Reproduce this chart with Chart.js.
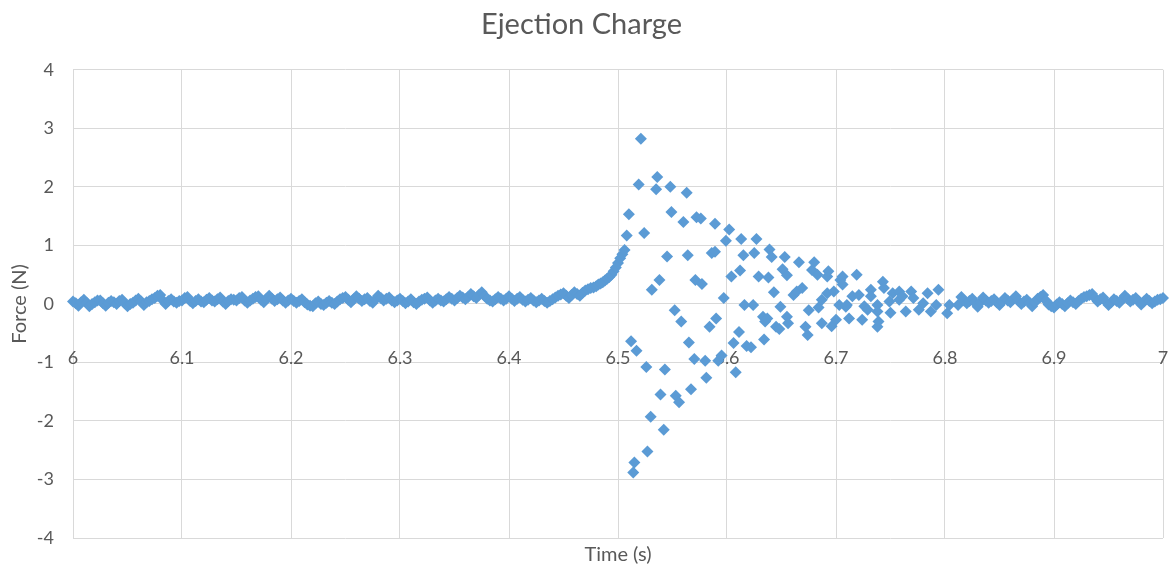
<!DOCTYPE html>
<html><head><meta charset="utf-8">
<script src="https://cdn.jsdelivr.net/npm/chart.js@4/dist/chart.umd.min.js"></script>
<style>html,body{margin:0;padding:0;background:#fff;}</style>
</head><body>
<canvas id="c" width="1169" height="572"></canvas>
<script>
// Pre-event baseline (time s, force N)
const baseTime = [
6.0000,6.0025,6.0050,6.0075,6.0100,6.0125,6.0150,6.0175,6.0200,6.0225,6.0250,6.0275,6.0300,6.0325,6.0350,6.0375,6.0400,6.0425,6.0450,6.0475,
6.0500,6.0525,6.0550,6.0575,6.0600,6.0625,6.0650,6.0675,6.0700,6.0725,6.0750,6.0775,6.0800,6.0825,6.0850,6.0875,6.0900,6.0925,6.0950,6.0975,
6.1000,6.1025,6.1050,6.1075,6.1100,6.1125,6.1150,6.1175,6.1200,6.1225,6.1250,6.1275,6.1300,6.1325,6.1350,6.1375,6.1400,6.1425,6.1450,6.1475,
6.1500,6.1525,6.1550,6.1575,6.1600,6.1625,6.1650,6.1675,6.1700,6.1725,6.1750,6.1775,6.1800,6.1825,6.1850,6.1875,6.1900,6.1925,6.1950,6.1975,
6.2000,6.2025,6.2050,6.2075,6.2100,6.2125,6.2150,6.2175,6.2200,6.2225,6.2250,6.2275,6.2300,6.2325,6.2350,6.2375,6.2400,6.2425,6.2450,6.2475,
6.2500,6.2525,6.2550,6.2575,6.2600,6.2625,6.2650,6.2675,6.2700,6.2725,6.2750,6.2775,6.2800,6.2825,6.2850,6.2875,6.2900,6.2925,6.2950,6.2975,
6.3000,6.3025,6.3050,6.3075,6.3100,6.3125,6.3150,6.3175,6.3200,6.3225,6.3250,6.3275,6.3300,6.3325,6.3350,6.3375,6.3400,6.3425,6.3450,6.3475,
6.3500,6.3525,6.3550,6.3575,6.3600,6.3625,6.3650,6.3675,6.3700,6.3725,6.3750,6.3775,6.3800,6.3825,6.3850,6.3875,6.3900,6.3925,6.3950,6.3975,
6.4000,6.4025,6.4050,6.4075,6.4100,6.4125,6.4150,6.4175,6.4200,6.4225,6.4250,6.4275,6.4300,6.4325,6.4350,6.4375,6.4400,6.4425,6.4450,6.4475,
6.4500,6.4525,6.4550,6.4575,6.4600,6.4625,6.4650,6.4675,6.4700,6.4725,6.4750,6.4775,6.4800,6.4820,6.4840,6.4860,6.4880,6.4900,6.4920,6.4940,
6.4960,6.4980,6.5000,6.5020,6.5040];
const baseForce = [
0.04,0.01,-0.03,0.03,0.07,0.02,-0.04,0.00,0.03,0.06,0.06,0.01,-0.03,0.02,0.05,0.03,0.00,0.05,0.07,0.01,
-0.04,0.00,0.02,0.06,0.09,0.04,-0.02,0.03,0.05,0.08,0.10,0.14,0.15,0.06,0.00,0.05,0.08,0.04,0.02,0.05,
0.06,0.10,0.12,0.05,0.01,0.05,0.08,0.04,0.03,0.07,0.10,0.06,0.04,0.08,0.11,0.04,0.00,0.05,0.08,0.07,
0.06,0.10,0.12,0.06,0.02,0.06,0.09,0.12,0.13,0.07,0.03,0.09,0.14,0.09,0.05,0.08,0.11,0.06,0.02,0.06,
0.09,0.05,0.02,0.05,0.08,0.03,-0.01,-0.03,-0.04,0.01,0.04,0.00,-0.02,0.02,0.05,0.02,0.00,0.04,0.08,0.10,
0.12,0.07,0.03,0.08,0.13,0.09,0.05,0.08,0.10,0.05,0.02,0.08,0.14,0.10,0.06,0.09,0.11,0.06,0.03,0.06,
0.09,0.05,0.01,0.04,0.08,0.03,0.00,0.04,0.07,0.09,0.11,0.06,0.02,0.06,0.09,0.06,0.04,0.08,0.12,0.09,
0.06,0.10,0.14,0.11,0.08,0.12,0.17,0.13,0.10,0.15,0.20,0.14,0.09,0.06,0.04,0.08,0.12,0.09,0.06,0.09,
0.13,0.09,0.05,0.09,0.12,0.07,0.04,0.07,0.10,0.06,0.03,0.06,0.09,0.05,0.02,0.05,0.08,0.11,0.14,0.16,
0.18,0.14,0.10,0.15,0.20,0.17,0.14,0.19,0.23,0.25,0.27,0.28,0.30,0.33,0.35,0.37,0.40,0.43,0.46,0.50,
0.56,0.62,0.70,0.78,0.85];
// Ejection transient
const eventTime = [6.506,6.508,6.510,6.512,6.514,6.515,6.517,6.519,6.521,6.524,6.526,6.527,6.530,6.531,6.535,6.536,6.538,6.539,6.542,6.543,
6.545,6.548,6.549,6.552,6.553,6.556,6.558,6.560,6.563,6.564,6.565,6.567,6.570,6.571,6.572,6.576,6.577,6.580,6.581,6.584,
6.586,6.589,6.589,6.590,6.592,6.595,6.597,6.599,6.602,6.604,6.606,6.608,6.611,6.612,6.613,6.615,6.616,6.618,6.622,6.624,
6.625,6.627,6.629,6.633,6.634,6.635,6.637,6.638,6.639,6.641,6.643,6.645,6.648,6.649,6.651,6.653,6.655,6.655,6.656,6.661,
6.664,6.666,6.669,6.672,6.674,6.675,6.678,6.680,6.683,6.684,6.687,6.687,6.692,6.692,6.693,6.696,6.698,6.700,6.703,6.704,
6.706,6.706,6.709,6.710,6.712,6.715,6.719,6.721,6.724,6.726,6.729,6.732,6.732,6.738,6.738,6.738,6.739,6.743,6.744,6.749,
6.750,6.752,6.758,6.758,6.761,6.764,6.769,6.771,6.776,6.780,6.784,6.787,6.792,6.794,6.802,6.804,6.812];
const eventForce = [0.92,1.17,1.53,-0.64,-2.88,-2.71,-0.80,2.04,2.82,1.21,-1.08,-2.52,-1.93,0.24,1.96,2.17,0.41,-1.55,-2.15,-1.12,
0.81,2.00,1.57,-0.11,-1.57,-1.68,-0.30,1.40,1.90,0.83,-0.66,-1.46,-0.94,0.41,1.48,1.46,0.34,-0.97,-1.26,-0.39,
0.87,1.37,0.89,-0.25,-0.97,-0.88,0.10,1.08,1.27,0.47,-0.67,-1.17,-0.48,0.57,1.11,0.83,-0.02,-0.72,-0.74,-0.02,
0.87,1.11,0.47,-0.22,-0.61,-0.30,-0.25,0.45,0.93,0.80,0.20,-0.39,-0.43,-0.05,0.59,0.80,0.49,-0.22,-0.33,0.15,
0.21,0.71,0.27,-0.39,-0.53,-0.11,0.58,0.71,0.50,-0.06,-0.33,0.07,0.47,0.18,0.56,-0.38,0.21,-0.27,-0.02,0.41,
0.47,0.33,-0.05,-0.02,-0.25,0.13,0.50,0.15,-0.27,-0.04,-0.10,0.24,0.13,-0.02,-0.13,-0.39,-0.30,0.38,0.27,0.04,
-0.15,0.18,0.21,0.07,0.13,-0.13,0.21,0.10,-0.10,0.01,0.18,-0.13,-0.02,0.24,-0.16,-0.02,-0.02];
// Post-event tail
const tailTime = [
6.8150,6.8175,6.8200,6.8225,6.8250,6.8275,6.8300,6.8325,6.8350,6.8375,6.8400,6.8425,6.8450,6.8475,6.8500,6.8525,6.8550,6.8575,6.8600,6.8625,
6.8650,6.8675,6.8700,6.8725,6.8750,6.8775,6.8800,6.8825,6.8850,6.8875,6.8900,6.8925,6.8950,6.8975,6.9000,6.9025,6.9050,6.9075,6.9100,6.9125,
6.9150,6.9175,6.9200,6.9225,6.9250,6.9275,6.9300,6.9325,6.9350,6.9375,6.9400,6.9425,6.9450,6.9475,6.9500,6.9525,6.9550,6.9575,6.9600,6.9625,
6.9650,6.9675,6.9700,6.9725,6.9750,6.9775,6.9800,6.9825,6.9850,6.9875,6.9900,6.9925,6.9950,6.9975,7.0000];
const tailForce = [
0.12,0.06,0.01,0.05,0.09,0.02,-0.05,0.03,0.11,0.06,0.02,0.05,0.08,0.03,-0.02,0.04,0.10,0.06,0.03,0.08,
0.13,0.05,0.00,0.04,0.07,0.02,-0.04,0.03,0.09,0.12,0.15,0.06,-0.01,-0.04,-0.06,-0.01,0.03,0.00,-0.04,0.01,
0.06,0.03,0.00,0.05,0.09,0.12,0.13,0.15,0.17,0.10,0.04,0.08,0.11,0.04,-0.02,0.03,0.08,0.05,0.02,0.08,
0.14,0.09,0.04,0.07,0.10,0.05,-0.01,0.04,0.09,0.05,0.01,0.04,0.07,0.08,0.10];

const xTickLabels = ['6','6.1','6.2','6.3','6.4','6.5','6.6','6.7','6.8','6.9','7'];
const yTickLabels = ['-4','-3','-2','-1','0','1','2','3','4'];

const toPts = (t, f) => t.map((x, i) => ({x: x, y: f[i]}));
const points = [].concat(toPts(baseTime, baseForce), toPts(eventTime, eventForce), toPts(tailTime, tailForce));

const GRID = '#D9D9D9';
const TEXT = '#595959';
const FONT = 'Lato';

new Chart(document.getElementById('c'), {
  type: 'scatter',
  data: { datasets: [{
    label: 'Force',
    data: points,
    pointStyle: 'rectRot',
    pointRadius: 6,
    pointHoverRadius: 6,
    pointHitRadius: 0,
    backgroundColor: '#5B9BD5',
    borderColor: '#5B9BD5',
    borderWidth: 0,
    clip: false
  }]},
  options: {
    responsive: false,
    animation: false,
    devicePixelRatio: 1,
    events: [],
    layout: { autoPadding: false, padding: { left: 0, right: 6, top: 0, bottom: 0 } },
    plugins: {
      legend: { display: false },
      tooltip: { enabled: false },
      title: {
        display: true,
        text: 'Ejection Charge',
        color: TEXT,
        font: { family: FONT, size: 29, weight: 'normal', lineHeight: 1.2 },
        padding: { top: 7, bottom: 28 }
      }
    },
    scales: {
      x: {
        type: 'linear', position: 'bottom', min: 6, max: 7,
        ticks: { display: false, stepSize: 0.1 },
        grid: { color: GRID, lineWidth: 1, drawTicks: false },
        border: { display: false },
        title: { display: true, text: 'Time (s)', color: TEXT,
                 font: { family: FONT, size: 20, lineHeight: 1.2 }, padding: { top: 0, bottom: 5 } },
        afterFit: s => { s.height = 34; s.paddingLeft = 0; s.paddingRight = 0; }
      },
      x2: {
        type: 'linear', axis: 'x', position: { y: 0 }, min: 6, max: 7,
        ticks: { stepSize: 0.1, color: TEXT, padding: 43, maxRotation: 0, autoSkip: false,
                 font: { family: FONT, size: 18 },
                 callback: (v, i) => xTickLabels[i] },
        grid: { display: false, drawTicks: false },
        border: { display: false },
        afterFit: s => { s.paddingLeft = 0; s.paddingRight = 0; }
      },
      y: {
        type: 'linear', position: 'left', min: -4, max: 4,
        ticks: { stepSize: 1, color: TEXT, padding: 19, font: { family: FONT, size: 18 },
                 callback: (v, i) => yTickLabels[i] },
        grid: { color: GRID, lineWidth: 1, drawTicks: false },
        border: { display: false },
        title: { display: true, text: 'Force (N)', color: TEXT,
                 font: { family: FONT, size: 20, lineHeight: 1.2 }, padding: { top: 8, bottom: 0 } },
        afterFit: s => { s.width = 73; }
      }
    }
  }
});
</script>
</body></html>
